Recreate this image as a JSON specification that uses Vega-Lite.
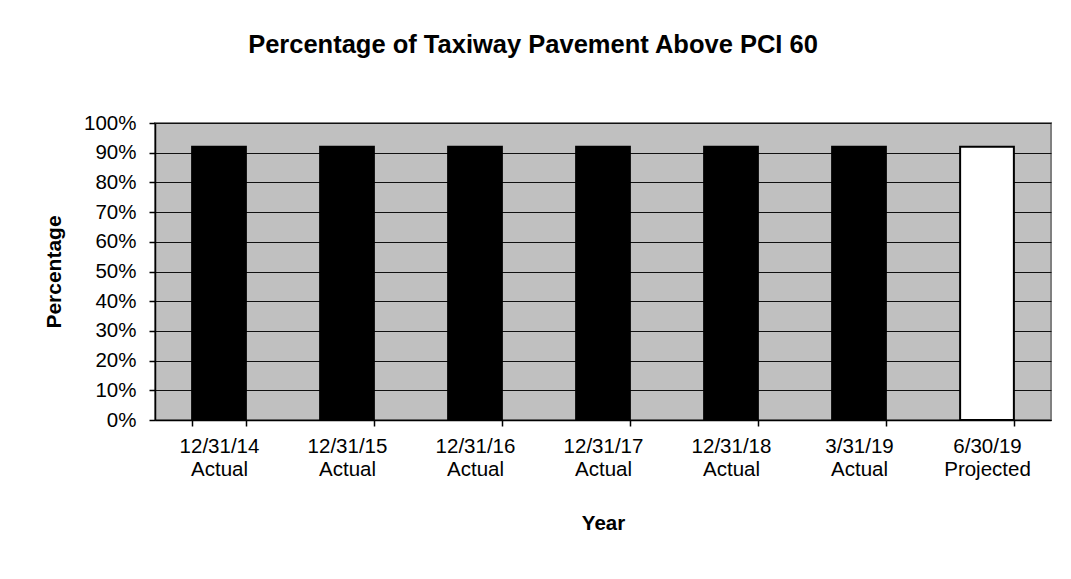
{
  "$schema": "https://vega.github.io/schema/vega-lite/v6.json",
  "autosize": "none",
  "width": 896,
  "height": 297,
  "padding": {"left": 155, "top": 123, "right": 20, "bottom": 159},
  "background": "white",
  "title": {
    "text": "Percentage of Taxiway Pavement Above PCI 60",
    "font": "Liberation Sans",
    "fontSize": 25.5,
    "fontWeight": "bold",
    "color": "black",
    "anchor": "middle",
    "dx": -70,
    "offset": 55
  },
  "data": {
    "values": [
      {"period": "12/31/14|Actual", "status": "Actual", "pct": 0.92},
      {"period": "12/31/15|Actual", "status": "Actual", "pct": 0.92},
      {"period": "12/31/16|Actual", "status": "Actual", "pct": 0.92},
      {"period": "12/31/17|Actual", "status": "Actual", "pct": 0.92},
      {"period": "12/31/18|Actual", "status": "Actual", "pct": 0.92},
      {"period": "3/31/19|Actual", "status": "Actual", "pct": 0.92},
      {"period": "6/30/19|Projected", "status": "Projected", "pct": 0.92}
    ]
  },
  "mark": {"type": "bar", "stroke": "black", "strokeWidth": 2},
  "encoding": {
    "x": {
      "field": "period",
      "type": "nominal",
      "sort": null,
      "scale": {"paddingInner": 0.58, "paddingOuter": 0.29},
      "axis": {
        "title": "Year",
        "labelAngle": 0,
        "labelExpr": "split(datum.label, '|')",
        "labelLineHeight": 23,
        "labelPadding": 10,
        "tickBand": "extent",
        "titlePadding": 34
      }
    },
    "y": {
      "field": "pct",
      "type": "quantitative",
      "scale": {"domain": [0, 1]},
      "axis": {
        "title": "Percentage",
        "format": ".0%",
        "values": [0, 0.1, 0.2, 0.3, 0.4, 0.5, 0.6, 0.7, 0.8, 0.9, 1],
        "grid": true,
        "labelPadding": 13,
        "titlePadding": 19,
        "titleFontSize": 21
      }
    },
    "fill": {
      "field": "status",
      "type": "nominal",
      "scale": {"domain": ["Actual", "Projected"], "range": ["black", "white"]},
      "legend": null
    }
  },
  "config": {
    "view": {"fill": "#C0C0C0", "stroke": "#808080", "strokeWidth": 2},
    "axis": {
      "labelFont": "Liberation Sans",
      "labelFontSize": 20.5,
      "labelColor": "black",
      "titleFont": "Liberation Sans",
      "titleFontSize": 20.5,
      "titleFontWeight": "bold",
      "titleColor": "black",
      "domainColor": "black",
      "domainWidth": 1.5,
      "tickColor": "black",
      "tickSize": 6,
      "tickWidth": 1.5,
      "gridColor": "#111111",
      "gridWidth": 1
    },
    "axisX": {"grid": false}
  }
}
